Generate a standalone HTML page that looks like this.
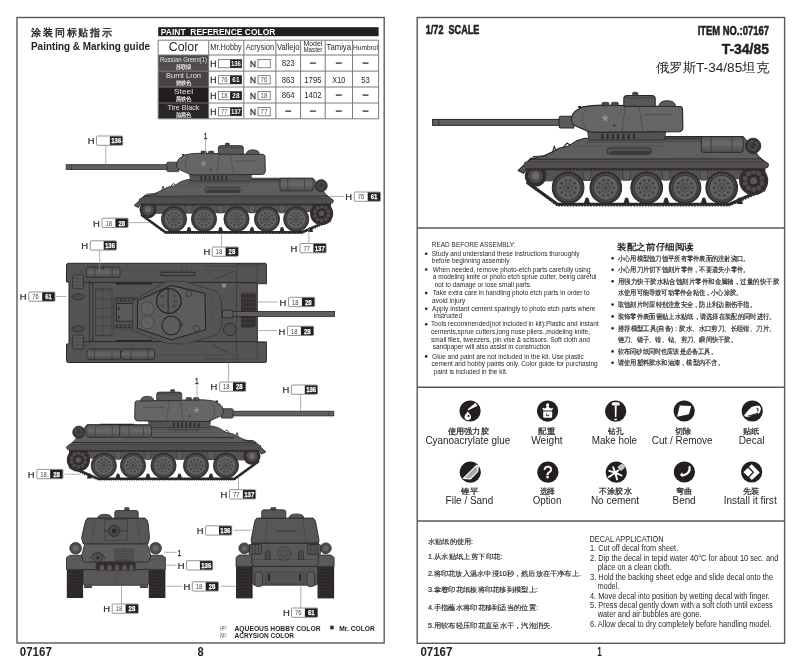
<!DOCTYPE html>
<html><head><meta charset="utf-8"><style>
html,body{margin:0;padding:0;background:#fff;width:800px;height:663px;overflow:hidden}
svg{display:block;will-change:transform;font-family:"Liberation Sans",sans-serif}
</style></head><body>
<svg width="800" height="663" viewBox="0 0 800 663" fill="#231f20">
<rect x="17.00" y="17.50" width="367.20" height="625.50" fill="none" stroke="#5a5757" stroke-width="1.4"/>
<rect x="417.20" y="17.50" width="367.40" height="625.80" fill="none" stroke="#5a5757" stroke-width="1.4"/>
<line x1="417.20" y1="228.00" x2="784.60" y2="228.00" stroke="#5a5757" stroke-width="1.4"/>
<line x1="417.20" y1="387.30" x2="784.60" y2="387.30" stroke="#5a5757" stroke-width="1.4"/>
<line x1="417.20" y1="521.00" x2="784.60" y2="521.00" stroke="#5a5757" stroke-width="1.4"/>
<text x="31.00" y="36.30" font-size="10.2" textLength="81.00" lengthAdjust="spacing" stroke="#231f20" stroke-width="0.4">涂装同标贴指示</text>
<text x="31.00" y="49.90" font-size="11.3" font-weight="bold" textLength="119.00" lengthAdjust="spacingAndGlyphs">Painting &amp; Marking guide</text>
<rect x="158.20" y="27.20" width="220.40" height="9.00" fill="#231f20"/>
<text x="160.80" y="34.90" font-size="9.3" font-weight="bold" fill="#fff" textLength="114.60" lengthAdjust="spacingAndGlyphs">PAINT&#160; REFERENCE COLOR</text>
<rect x="158.20" y="55.00" width="50.50" height="16.10" fill="#4e4c4c"/>
<rect x="158.20" y="71.10" width="50.50" height="15.90" fill="#484444"/>
<rect x="158.20" y="87.00" width="50.50" height="16.00" fill="#221e1e"/>
<rect x="158.20" y="103.00" width="50.50" height="15.80" fill="#2b2727"/>
<line x1="158.20" y1="71.10" x2="208.70" y2="71.10" stroke="#777" stroke-width="0.9"/>
<line x1="158.20" y1="87.00" x2="208.70" y2="87.00" stroke="#777" stroke-width="0.9"/>
<line x1="158.20" y1="103.00" x2="208.70" y2="103.00" stroke="#777" stroke-width="0.9"/>
<line x1="158.20" y1="40.20" x2="378.60" y2="40.20" stroke="#7c7a7a" stroke-width="1.0"/>
<line x1="158.20" y1="55.00" x2="378.60" y2="55.00" stroke="#7c7a7a" stroke-width="1.0"/>
<line x1="208.70" y1="71.10" x2="378.60" y2="71.10" stroke="#7c7a7a" stroke-width="1.0"/>
<line x1="208.70" y1="87.00" x2="378.60" y2="87.00" stroke="#7c7a7a" stroke-width="1.0"/>
<line x1="208.70" y1="103.00" x2="378.60" y2="103.00" stroke="#7c7a7a" stroke-width="1.0"/>
<line x1="158.20" y1="118.80" x2="378.60" y2="118.80" stroke="#7c7a7a" stroke-width="1.0"/>
<line x1="158.20" y1="40.20" x2="158.20" y2="118.80" stroke="#7c7a7a" stroke-width="1.0"/>
<line x1="208.70" y1="40.20" x2="208.70" y2="118.80" stroke="#7c7a7a" stroke-width="1.0"/>
<line x1="243.80" y1="40.20" x2="243.80" y2="118.80" stroke="#7c7a7a" stroke-width="1.0"/>
<line x1="275.90" y1="40.20" x2="275.90" y2="118.80" stroke="#7c7a7a" stroke-width="1.0"/>
<line x1="300.60" y1="40.20" x2="300.60" y2="118.80" stroke="#7c7a7a" stroke-width="1.0"/>
<line x1="325.20" y1="40.20" x2="325.20" y2="118.80" stroke="#7c7a7a" stroke-width="1.0"/>
<line x1="352.50" y1="40.20" x2="352.50" y2="118.80" stroke="#7c7a7a" stroke-width="1.0"/>
<line x1="378.60" y1="40.20" x2="378.60" y2="118.80" stroke="#7c7a7a" stroke-width="1.0"/>
<text x="183.50" y="51.40" font-size="12" text-anchor="middle" textLength="29.50" lengthAdjust="spacingAndGlyphs">Color</text>
<text x="226.00" y="49.80" font-size="8.2" text-anchor="middle" textLength="31.50" lengthAdjust="spacingAndGlyphs">Mr.Hobby</text>
<text x="259.90" y="49.80" font-size="8.2" text-anchor="middle" textLength="28.50" lengthAdjust="spacingAndGlyphs">Acrysion</text>
<text x="288.20" y="49.80" font-size="8.2" text-anchor="middle" textLength="22.50" lengthAdjust="spacingAndGlyphs">Vallejo</text>
<text x="312.90" y="46.20" font-size="6.6" text-anchor="middle" textLength="19.00" lengthAdjust="spacingAndGlyphs">Model</text>
<text x="312.90" y="52.40" font-size="6.6" text-anchor="middle" textLength="19.00" lengthAdjust="spacingAndGlyphs">Master</text>
<text x="338.80" y="49.80" font-size="8.4" text-anchor="middle" textLength="24.50" lengthAdjust="spacingAndGlyphs">Tamiya</text>
<text x="365.50" y="50.20" font-size="6.4" text-anchor="middle" textLength="25.00" lengthAdjust="spacingAndGlyphs">Humbrol</text>
<text x="183.50" y="62.20" font-size="7.1" fill="#e6e2e2" text-anchor="middle" textLength="47.00" lengthAdjust="spacingAndGlyphs">Russian Green(1)</text>
<text x="183.50" y="69.20" font-size="6" fill="#e6e2e2" text-anchor="middle" textLength="16.00" lengthAdjust="spacingAndGlyphs" font-weight="bold">苏联绿</text>
<text x="183.50" y="78.30" font-size="8" fill="#e6e2e2" text-anchor="middle" textLength="35.00" lengthAdjust="spacingAndGlyphs">Burnt Lron</text>
<text x="183.50" y="85.30" font-size="6" fill="#e6e2e2" text-anchor="middle" textLength="16.00" lengthAdjust="spacingAndGlyphs" font-weight="bold">烧铁色</text>
<text x="183.50" y="94.20" font-size="8" fill="#e6e2e2" text-anchor="middle" textLength="19.00" lengthAdjust="spacingAndGlyphs">Steel</text>
<text x="183.50" y="101.20" font-size="6" fill="#e6e2e2" text-anchor="middle" textLength="16.00" lengthAdjust="spacingAndGlyphs" font-weight="bold">黑铁色</text>
<text x="183.50" y="110.20" font-size="8" fill="#e6e2e2" text-anchor="middle" textLength="32.00" lengthAdjust="spacingAndGlyphs">Tire Black</text>
<text x="183.50" y="117.20" font-size="6" fill="#e6e2e2" text-anchor="middle" textLength="16.00" lengthAdjust="spacingAndGlyphs" font-weight="bold">胎黑色</text>
<text x="210.30" y="67.20" font-size="9.8" fill="#2b2727" textLength="6.20" lengthAdjust="spacingAndGlyphs" stroke="#2b2727" stroke-width="0.3">H</text>
<rect x="218.50" y="59.60" width="23.20" height="8.20" fill="#fff" stroke="#555" stroke-width="0.7"/>
<rect x="230.10" y="59.60" width="11.60" height="8.20" fill="#231f20"/>
<text x="235.90" y="66.20" font-size="7.2" font-weight="bold" fill="#fff" text-anchor="middle" textLength="10.00" lengthAdjust="spacingAndGlyphs">136</text>
<text x="250.00" y="67.20" font-size="9.8" fill="#2b2727" textLength="6.00" lengthAdjust="spacingAndGlyphs" stroke="#2b2727" stroke-width="0.3">N</text>
<rect x="258.00" y="59.60" width="12.20" height="8.20" fill="#fff" stroke="#555" stroke-width="0.7"/>
<text x="210.30" y="83.30" font-size="9.8" fill="#2b2727" textLength="6.20" lengthAdjust="spacingAndGlyphs" stroke="#2b2727" stroke-width="0.3">H</text>
<rect x="218.50" y="75.70" width="23.20" height="8.20" fill="#fff" stroke="#555" stroke-width="0.7"/>
<rect x="230.10" y="75.70" width="11.60" height="8.20" fill="#231f20"/>
<text x="235.90" y="82.30" font-size="7.2" font-weight="bold" fill="#fff" text-anchor="middle" textLength="7.20" lengthAdjust="spacingAndGlyphs">61</text>
<text x="224.30" y="82.30" font-size="7.2" fill="#555" text-anchor="middle" textLength="6.80" lengthAdjust="spacingAndGlyphs">76</text>
<text x="250.00" y="83.30" font-size="9.8" fill="#2b2727" textLength="6.00" lengthAdjust="spacingAndGlyphs" stroke="#2b2727" stroke-width="0.3">N</text>
<rect x="258.00" y="75.70" width="12.20" height="8.20" fill="#fff" stroke="#555" stroke-width="0.7"/>
<text x="264.10" y="82.30" font-size="7.2" fill="#555" text-anchor="middle" textLength="7.00" lengthAdjust="spacingAndGlyphs">76</text>
<text x="210.30" y="99.20" font-size="9.8" fill="#2b2727" textLength="6.20" lengthAdjust="spacingAndGlyphs" stroke="#2b2727" stroke-width="0.3">H</text>
<rect x="218.50" y="91.60" width="23.20" height="8.20" fill="#fff" stroke="#555" stroke-width="0.7"/>
<rect x="230.10" y="91.60" width="11.60" height="8.20" fill="#231f20"/>
<text x="235.90" y="98.20" font-size="7.2" font-weight="bold" fill="#fff" text-anchor="middle" textLength="7.20" lengthAdjust="spacingAndGlyphs">28</text>
<text x="224.30" y="98.20" font-size="7.2" fill="#555" text-anchor="middle" textLength="6.80" lengthAdjust="spacingAndGlyphs">18</text>
<text x="250.00" y="99.20" font-size="9.8" fill="#2b2727" textLength="6.00" lengthAdjust="spacingAndGlyphs" stroke="#2b2727" stroke-width="0.3">N</text>
<rect x="258.00" y="91.60" width="12.20" height="8.20" fill="#fff" stroke="#555" stroke-width="0.7"/>
<text x="264.10" y="98.20" font-size="7.2" fill="#555" text-anchor="middle" textLength="7.00" lengthAdjust="spacingAndGlyphs">18</text>
<text x="210.30" y="115.20" font-size="9.8" fill="#2b2727" textLength="6.20" lengthAdjust="spacingAndGlyphs" stroke="#2b2727" stroke-width="0.3">H</text>
<rect x="218.50" y="107.60" width="23.20" height="8.20" fill="#fff" stroke="#555" stroke-width="0.7"/>
<rect x="230.10" y="107.60" width="11.60" height="8.20" fill="#231f20"/>
<text x="235.90" y="114.20" font-size="7.2" font-weight="bold" fill="#fff" text-anchor="middle" textLength="10.00" lengthAdjust="spacingAndGlyphs">137</text>
<text x="224.30" y="114.20" font-size="7.2" fill="#555" text-anchor="middle" textLength="6.80" lengthAdjust="spacingAndGlyphs">77</text>
<text x="250.00" y="115.20" font-size="9.8" fill="#2b2727" textLength="6.00" lengthAdjust="spacingAndGlyphs" stroke="#2b2727" stroke-width="0.3">N</text>
<rect x="258.00" y="107.60" width="12.20" height="8.20" fill="#fff" stroke="#555" stroke-width="0.7"/>
<text x="264.10" y="114.20" font-size="7.2" fill="#555" text-anchor="middle" textLength="7.00" lengthAdjust="spacingAndGlyphs">77</text>
<text x="288.20" y="66.40" font-size="8.2" text-anchor="middle" textLength="12.90" lengthAdjust="spacingAndGlyphs">823</text>
<line x1="309.90" y1="63.10" x2="315.90" y2="63.10" stroke="#231f20" stroke-width="1.2"/>
<line x1="335.80" y1="63.10" x2="341.80" y2="63.10" stroke="#231f20" stroke-width="1.2"/>
<line x1="362.50" y1="63.10" x2="368.50" y2="63.10" stroke="#231f20" stroke-width="1.2"/>
<text x="288.20" y="82.50" font-size="8.2" text-anchor="middle" textLength="12.90" lengthAdjust="spacingAndGlyphs">863</text>
<text x="312.90" y="82.50" font-size="8.2" text-anchor="middle" textLength="17.20" lengthAdjust="spacingAndGlyphs">1795</text>
<text x="338.80" y="82.50" font-size="8.2" text-anchor="middle" textLength="12.90" lengthAdjust="spacingAndGlyphs">X10</text>
<text x="365.50" y="82.50" font-size="8.2" text-anchor="middle" textLength="8.60" lengthAdjust="spacingAndGlyphs">53</text>
<text x="288.20" y="98.40" font-size="8.2" text-anchor="middle" textLength="12.90" lengthAdjust="spacingAndGlyphs">864</text>
<text x="312.90" y="98.40" font-size="8.2" text-anchor="middle" textLength="17.20" lengthAdjust="spacingAndGlyphs">1402</text>
<line x1="335.80" y1="95.10" x2="341.80" y2="95.10" stroke="#231f20" stroke-width="1.2"/>
<line x1="362.50" y1="95.10" x2="368.50" y2="95.10" stroke="#231f20" stroke-width="1.2"/>
<line x1="285.20" y1="111.10" x2="291.20" y2="111.10" stroke="#231f20" stroke-width="1.2"/>
<line x1="309.90" y1="111.10" x2="315.90" y2="111.10" stroke="#231f20" stroke-width="1.2"/>
<line x1="335.80" y1="111.10" x2="341.80" y2="111.10" stroke="#231f20" stroke-width="1.2"/>
<line x1="362.50" y1="111.10" x2="368.50" y2="111.10" stroke="#231f20" stroke-width="1.2"/>
<defs><g id="side"><path d="M141,214.5 L165.5,232.2 L302,232.2 L331,219.5" fill="none" stroke="#2e2929" stroke-width="2.4" stroke-linejoin="round"/><path d="M142,216 L165.5,233.4 L302,233.4 L331.5,221" fill="none" stroke="#2e2929" stroke-width="1.2" stroke-dasharray="1.3 1.0"/><path d="M186.4,232 L187.7,227.6 Q189,226.2 190.3,227.6 L191.6,232Z" fill="#2e2929"/><path d="M217.9,232 L219.2,227.6 Q220.5,226.2 221.8,227.6 L223.1,232Z" fill="#2e2929"/><path d="M249.4,232 L250.7,227.6 Q252,226.2 253.3,227.6 L254.6,232Z" fill="#2e2929"/><path d="M279.4,232 L280.7,227.6 Q282,226.2 283.3,227.6 L284.6,232Z" fill="#2e2929"/><path d="M307.9,232 L309.2,227.6 Q310.5,226.2 311.8,227.6 L313.1,232Z" fill="#2e2929"/><path d="M139,203 L331,203 L331,212 L150,214 Z" fill="#545252"/><path d="M185.6,205 H192.4 L191.4,213 H186.6Z" fill="#5c5a5a" stroke="#3a3535" stroke-width="0.5"/><path d="M217.1,205 H223.9 L222.9,213 H218.1Z" fill="#5c5a5a" stroke="#3a3535" stroke-width="0.5"/><path d="M248.6,205 H255.4 L254.4,213 H249.6Z" fill="#5c5a5a" stroke="#3a3535" stroke-width="0.5"/><path d="M278.6,205 H285.4 L284.4,213 H279.6Z" fill="#5c5a5a" stroke="#3a3535" stroke-width="0.5"/><circle cx="148.1" cy="209.6" r="8.6" fill="#342f2f"/><circle cx="148.1" cy="209.6" r="6.2" fill="#4d4949" stroke="#2a2525" stroke-width="0.9" stroke-dasharray="1.4 1"/><circle cx="148.1" cy="209.6" r="3" fill="#6b6a6a"/><circle cx="321.6" cy="213.5" r="11.6" fill="#312c2c"/><circle cx="328.29" cy="215.57" r="2.0" fill="#4f4b4b"/><circle cx="325.79" cy="219.10" r="2.0" fill="#4f4b4b"/><circle cx="321.70" cy="220.50" r="2.0" fill="#4f4b4b"/><circle cx="317.57" cy="219.22" r="2.0" fill="#4f4b4b"/><circle cx="314.97" cy="215.76" r="2.0" fill="#4f4b4b"/><circle cx="314.91" cy="211.43" r="2.0" fill="#4f4b4b"/><circle cx="317.41" cy="207.90" r="2.0" fill="#4f4b4b"/><circle cx="321.50" cy="206.50" r="2.0" fill="#4f4b4b"/><circle cx="325.63" cy="207.78" r="2.0" fill="#4f4b4b"/><circle cx="328.23" cy="211.24" r="2.0" fill="#4f4b4b"/><circle cx="321.6" cy="213.5" r="2.8" fill="#5a5757"/><circle cx="321.6" cy="213.5" r="10.8" fill="none" stroke="#4a4545" stroke-width="0.7" stroke-dasharray="1 1.3"/><circle cx="174" cy="219.1" r="12.6" fill="#3a3535" stroke="#2e2929" stroke-width="0.8"/><circle cx="174" cy="219.1" r="10.9" fill="#585656"/><circle cx="174" cy="219.1" r="9.9" fill="#626161" stroke="#3a3535" stroke-width="0.9"/><circle cx="180.20" cy="219.10" r="1.05" fill="#423e3e"/><circle cx="179.02" cy="222.74" r="1.05" fill="#423e3e"/><circle cx="175.92" cy="225.00" r="1.05" fill="#423e3e"/><circle cx="172.08" cy="225.00" r="1.05" fill="#423e3e"/><circle cx="168.98" cy="222.74" r="1.05" fill="#423e3e"/><circle cx="167.80" cy="219.10" r="1.05" fill="#423e3e"/><circle cx="168.98" cy="215.46" r="1.05" fill="#423e3e"/><circle cx="172.08" cy="213.20" r="1.05" fill="#423e3e"/><circle cx="175.92" cy="213.20" r="1.05" fill="#423e3e"/><circle cx="179.02" cy="215.46" r="1.05" fill="#423e3e"/><circle cx="174" cy="219.1" r="3.6" fill="#5a5858" stroke="#474343" stroke-width="0.7"/><circle cx="174" cy="219.1" r="1.3" fill="#474343"/><circle cx="204" cy="219.1" r="12.6" fill="#3a3535" stroke="#2e2929" stroke-width="0.8"/><circle cx="204" cy="219.1" r="10.9" fill="#585656"/><circle cx="204" cy="219.1" r="9.9" fill="#626161" stroke="#3a3535" stroke-width="0.9"/><circle cx="210.20" cy="219.10" r="1.05" fill="#423e3e"/><circle cx="209.02" cy="222.74" r="1.05" fill="#423e3e"/><circle cx="205.92" cy="225.00" r="1.05" fill="#423e3e"/><circle cx="202.08" cy="225.00" r="1.05" fill="#423e3e"/><circle cx="198.98" cy="222.74" r="1.05" fill="#423e3e"/><circle cx="197.80" cy="219.10" r="1.05" fill="#423e3e"/><circle cx="198.98" cy="215.46" r="1.05" fill="#423e3e"/><circle cx="202.08" cy="213.20" r="1.05" fill="#423e3e"/><circle cx="205.92" cy="213.20" r="1.05" fill="#423e3e"/><circle cx="209.02" cy="215.46" r="1.05" fill="#423e3e"/><circle cx="204" cy="219.1" r="3.6" fill="#5a5858" stroke="#474343" stroke-width="0.7"/><circle cx="204" cy="219.1" r="1.3" fill="#474343"/><circle cx="236.5" cy="219.1" r="12.6" fill="#3a3535" stroke="#2e2929" stroke-width="0.8"/><circle cx="236.5" cy="219.1" r="10.9" fill="#585656"/><circle cx="236.5" cy="219.1" r="9.9" fill="#626161" stroke="#3a3535" stroke-width="0.9"/><circle cx="242.70" cy="219.10" r="1.05" fill="#423e3e"/><circle cx="241.52" cy="222.74" r="1.05" fill="#423e3e"/><circle cx="238.42" cy="225.00" r="1.05" fill="#423e3e"/><circle cx="234.58" cy="225.00" r="1.05" fill="#423e3e"/><circle cx="231.48" cy="222.74" r="1.05" fill="#423e3e"/><circle cx="230.30" cy="219.10" r="1.05" fill="#423e3e"/><circle cx="231.48" cy="215.46" r="1.05" fill="#423e3e"/><circle cx="234.58" cy="213.20" r="1.05" fill="#423e3e"/><circle cx="238.42" cy="213.20" r="1.05" fill="#423e3e"/><circle cx="241.52" cy="215.46" r="1.05" fill="#423e3e"/><circle cx="236.5" cy="219.1" r="3.6" fill="#5a5858" stroke="#474343" stroke-width="0.7"/><circle cx="236.5" cy="219.1" r="1.3" fill="#474343"/><circle cx="267" cy="219.1" r="12.6" fill="#3a3535" stroke="#2e2929" stroke-width="0.8"/><circle cx="267" cy="219.1" r="10.9" fill="#585656"/><circle cx="267" cy="219.1" r="9.9" fill="#626161" stroke="#3a3535" stroke-width="0.9"/><circle cx="273.20" cy="219.10" r="1.05" fill="#423e3e"/><circle cx="272.02" cy="222.74" r="1.05" fill="#423e3e"/><circle cx="268.92" cy="225.00" r="1.05" fill="#423e3e"/><circle cx="265.08" cy="225.00" r="1.05" fill="#423e3e"/><circle cx="261.98" cy="222.74" r="1.05" fill="#423e3e"/><circle cx="260.80" cy="219.10" r="1.05" fill="#423e3e"/><circle cx="261.98" cy="215.46" r="1.05" fill="#423e3e"/><circle cx="265.08" cy="213.20" r="1.05" fill="#423e3e"/><circle cx="268.92" cy="213.20" r="1.05" fill="#423e3e"/><circle cx="272.02" cy="215.46" r="1.05" fill="#423e3e"/><circle cx="267" cy="219.1" r="3.6" fill="#5a5858" stroke="#474343" stroke-width="0.7"/><circle cx="267" cy="219.1" r="1.3" fill="#474343"/><circle cx="296.2" cy="219.1" r="12.6" fill="#3a3535" stroke="#2e2929" stroke-width="0.8"/><circle cx="296.2" cy="219.1" r="10.9" fill="#585656"/><circle cx="296.2" cy="219.1" r="9.9" fill="#626161" stroke="#3a3535" stroke-width="0.9"/><circle cx="302.40" cy="219.10" r="1.05" fill="#423e3e"/><circle cx="301.22" cy="222.74" r="1.05" fill="#423e3e"/><circle cx="298.12" cy="225.00" r="1.05" fill="#423e3e"/><circle cx="294.28" cy="225.00" r="1.05" fill="#423e3e"/><circle cx="291.18" cy="222.74" r="1.05" fill="#423e3e"/><circle cx="290.00" cy="219.10" r="1.05" fill="#423e3e"/><circle cx="291.18" cy="215.46" r="1.05" fill="#423e3e"/><circle cx="294.28" cy="213.20" r="1.05" fill="#423e3e"/><circle cx="298.12" cy="213.20" r="1.05" fill="#423e3e"/><circle cx="301.22" cy="215.46" r="1.05" fill="#423e3e"/><circle cx="296.2" cy="219.1" r="3.6" fill="#5a5858" stroke="#474343" stroke-width="0.7"/><circle cx="296.2" cy="219.1" r="1.3" fill="#474343"/><path d="M141,204.6 L331,204.6" stroke="#2e2929" stroke-width="1.6" stroke-dasharray="2 0.8"/><path d="M134.2,205.4 L144.6,195.4 L326.5,195.2 L333.4,200.3 L332.8,202.6 L330,203.8 L141,203.8 L138.5,207.6 Z" fill="#5a5959" stroke="#2a2525" stroke-width="0.9" stroke-linejoin="round"/><rect x="139" y="198.4" width="192" height="5.2" fill="#504e4e"/><line x1="141" y1="198.1" x2="330" y2="198.1" stroke="#3e3a3a" stroke-width="0.7"/><path d="M144,196.3 L153.8,194 L162.5,190 L166.7,187.6 L174.3,185.8 L180.6,181.7 L187.4,179.6 L250.7,179.6 L251.5,178.2 L313,178.2 L314.6,180 L325.4,193.8 L327.5,196 Z" fill="#5f5e5e" stroke="#2a2525" stroke-width="0.8" stroke-linejoin="round"/><path d="M146,194.2 L157,193.6 M161.5,191 L163,186.2 L164.4,189.5 M170,187.2 L173.2,183.5 L175.5,185" stroke="#2a2525" stroke-width="0.9" fill="none"/><line x1="251.5" y1="179.9" x2="281" y2="179.9" stroke="#3a3535" stroke-width="1.5"/><line x1="188" y1="183" x2="250" y2="183" stroke="#444040" stroke-width="0.6"/><line x1="252" y1="182" x2="280" y2="182" stroke="#3d3939" stroke-width="0.6"/><line x1="178" y1="185.8" x2="250" y2="185.8" stroke="#4e4a4a" stroke-width="0.5"/><linearGradient id="drumg" x1="0" y1="0" x2="0" y2="1"><stop offset="0" stop-color="#585757"/><stop offset="0.45" stop-color="#6a6969"/><stop offset="1" stop-color="#4e4c4c"/></linearGradient><rect x="280" y="178.3" width="33.3" height="12.6" rx="1.8" fill="url(#drumg)" stroke="#2a2525" stroke-width="0.7"/><path d="M287.8,178.5 V190.7 M304.4,178.5 V190.7" stroke="#403c3c" stroke-width="0.8"/><circle cx="321.2" cy="185.7" r="6.1" fill="#3b3636" stroke="#2a2525" stroke-width="0.7"/><rect x="318.3" y="182.6" width="5.6" height="6" fill="none" stroke="#5e5a5a" stroke-width="0.8" transform="rotate(30 321.2 185.7)"/><path d="M189.5,174.2 L251.5,174.2 L251,181.2 L190.5,181.2Z" fill="#545151" stroke="#2a2525" stroke-width="0.6"/><rect x="200.5" y="176.2" width="1.4" height="4.2" fill="#2a2525"/><rect x="204.7" y="176.2" width="1.4" height="4.2" fill="#2a2525"/><rect x="208.9" y="176.2" width="1.4" height="4.2" fill="#2a2525"/><rect x="213.1" y="176.2" width="1.4" height="4.2" fill="#2a2525"/><rect x="217.3" y="176.2" width="1.4" height="4.2" fill="#2a2525"/><rect x="221.5" y="176.2" width="1.4" height="4.2" fill="#2a2525"/><rect x="225.7" y="176.2" width="1.4" height="4.2" fill="#2a2525"/><rect x="66.2" y="164.7" width="102" height="4.7" fill="#616060" stroke="#2a2525" stroke-width="0.8"/><line x1="71.2" y1="164.8" x2="71.2" y2="169.3" stroke="#2a2525" stroke-width="0.6"/><path d="M168.2,162.2 H178.5 V171.6 H168.2 Q166.8,171.6 166.8,170 V163.8 Q166.8,162.2 168.2,162.2Z" fill="#5c5b5b" stroke="#2a2525" stroke-width="0.8"/><path d="M176.6,165.2 C176.8,161.5 178.3,159 180.5,157.6 L185.6,154.7 C191.5,153.6 196,153.3 201,153.3 L263.6,154.4 Q265,154.7 265,157 L265.3,171.5 Q265,174.2 262.5,174.4 L195.4,175 C191,174.8 188.5,174 186.8,172.8 L178.7,169.3 C177.3,168.2 176.6,166.8 176.6,165.2Z" fill="#676666" stroke="#2a2525" stroke-width="0.9"/><path d="M189,156 C184,160 184,168 189.5,173.5" fill="none" stroke="#4a4747" stroke-width="0.6"/><path d="M219.5,153.8 L216.8,174.8 M230.5,153.8 L233.5,174.6 M234.5,161 H257" fill="none" stroke="#484444" stroke-width="0.6"/><path d="M203.5,160.1 L204.4,162.6 L206.9,162.6 L204.9,164.1 L205.7,166.6 L203.5,165.1 L201.3,166.6 L202.1,164.1 L200.1,162.6 L202.6,162.6Z" fill="#8f8d8d"/><circle cx="210.7" cy="169.6" r="1" fill="#3d3939"/><path d="M218.3,154.2 V148 Q218.3,145.6 221,145.6 H240.6 Q243.3,145.6 243.3,148 V154.2Z" fill="#5a5959" stroke="#2a2525" stroke-width="0.8"/><rect x="225.3" y="143.1" width="4.2" height="2.8" rx="1" fill="#4a4747" stroke="#2a2525" stroke-width="0.5"/><line x1="218.8" y1="147.6" x2="242.8" y2="147.6" stroke="#3d3939" stroke-width="0.6"/><path d="M246.2,154.4 Q246.4,149.8 252.8,149.8 Q259.4,149.8 259.4,154.4Z" fill="#5b5a5a" stroke="#2a2525" stroke-width="0.7"/><rect x="201" y="151.1" width="5.4" height="2.8" rx="0.8" fill="#4c4949" stroke="#2a2525" stroke-width="0.5"/><rect x="208.5" y="151.1" width="5.4" height="2.8" rx="0.8" fill="#4c4949" stroke="#2a2525" stroke-width="0.5"/><rect x="182" y="154" width="2.4" height="1.6" fill="#2a2525"/></g></defs>
<g><use href="#side"/><rect x="205" y="187.4" width="35" height="5" rx="1.8" fill="#565353" stroke="#2a2525" stroke-width="0.6"/><rect x="207" y="189.8" width="33" height="2.6" rx="1.2" fill="#3e3a3a"/></g>
<g transform="translate(400,246.5) scale(-1,1)"><use href="#side"/><rect x="248.5" y="178.6" width="31.8" height="12.4" rx="1.8" fill="url(#drumg)" stroke="#2a2525" stroke-width="0.7"/><path d="M256.5,178.8 V190.8 M271,178.8 V190.8" stroke="#403c3c" stroke-width="0.8"/><line x1="266" y1="177.9" x2="300" y2="177.9" stroke="#2a2525" stroke-width="1.2"/><line x1="166" y1="191" x2="248" y2="191" stroke="#3a3535" stroke-width="1.3"/><path d="M200,183.2 H232 M203,183.2 V185.5 M214,183.2 V185.5 M225,183.2 V185.5" stroke="#3d3939" stroke-width="0.6" fill="none"/></g>
<g transform="translate(349.4,-87.6) scale(1.257)"><use href="#side"/><rect x="205" y="187.4" width="35" height="5" rx="1.8" fill="#565353" stroke="#2a2525" stroke-width="0.6"/><rect x="207" y="189.8" width="33" height="2.6" rx="1.2" fill="#3e3a3a"/></g>
<path d="M66.5,265 Q66.5,263.3 68.5,263.3 L265,263.3 Q266.5,263.3 266.5,265 L266.5,283.7 L257.3,283.7 L257.3,342 L266.5,342 L266.5,360.5 Q266.5,362.5 264.5,362.5 L68.5,362.5 Q66.5,362.5 66.5,360.5 L66.5,344 L69,344 L69,282 L66.5,282 Z" fill="#555454" stroke="#2a2525" stroke-width="1"/>
<line x1="84.00" y1="282.40" x2="257.30" y2="282.40" stroke="#2a2525" stroke-width="0.9"/>
<line x1="84.00" y1="341.60" x2="257.30" y2="341.60" stroke="#2a2525" stroke-width="0.9"/>
<path d="M80,271 L94,286 M80,353 L94,338" stroke="#3a3636" stroke-width="0.7" fill="none"/>
<linearGradient id="tdrum" x1="0" y1="0" x2="0" y2="1"><stop offset="0" stop-color="#4e4c4c"/><stop offset="0.5" stop-color="#676666"/><stop offset="1" stop-color="#4a4848"/></linearGradient>
<rect x="86.50" y="267.00" width="33.50" height="10.50" fill="url(#tdrum)" stroke="#2a2525" stroke-width="0.7" rx="2"/>
<line x1="95.00" y1="267.00" x2="95.00" y2="277.50" stroke="#3d3939" stroke-width="0.8"/>
<line x1="112.00" y1="267.00" x2="112.00" y2="277.50" stroke="#3d3939" stroke-width="0.8"/>
<rect x="87.00" y="348.90" width="33.60" height="10.70" fill="url(#tdrum)" stroke="#2a2525" stroke-width="0.7" rx="2"/>
<line x1="94.50" y1="348.90" x2="94.50" y2="359.60" stroke="#3d3939" stroke-width="0.8"/>
<line x1="112.00" y1="348.90" x2="112.00" y2="359.60" stroke="#3d3939" stroke-width="0.8"/>
<rect x="121.00" y="348.90" width="33.50" height="10.70" fill="url(#tdrum)" stroke="#2a2525" stroke-width="0.7" rx="2"/>
<line x1="130.80" y1="348.90" x2="130.80" y2="359.60" stroke="#3d3939" stroke-width="0.8"/>
<line x1="148.00" y1="348.90" x2="148.00" y2="359.60" stroke="#3d3939" stroke-width="0.8"/>
<circle cx="103" cy="268.3" r="0.9" fill="#2a2525"/>
<line x1="116.00" y1="283.60" x2="152.00" y2="283.60" stroke="#2a2525" stroke-width="1.6"/>
<line x1="115.80" y1="340.80" x2="152.00" y2="340.80" stroke="#2a2525" stroke-width="1.6"/>
<rect x="72.40" y="275.00" width="11.20" height="13.80" fill="#5a5959" stroke="#2a2525" stroke-width="0.7" rx="2"/>
<line x1="72.40" y1="278.45" x2="83.60" y2="278.45" stroke="#3d3939" stroke-width="0.5"/>
<line x1="72.40" y1="281.90" x2="83.60" y2="281.90" stroke="#3d3939" stroke-width="0.5"/>
<line x1="72.40" y1="285.35" x2="83.60" y2="285.35" stroke="#3d3939" stroke-width="0.5"/>
<rect x="72.40" y="335.00" width="11.20" height="13.80" fill="#5a5959" stroke="#2a2525" stroke-width="0.7" rx="2"/>
<line x1="72.40" y1="338.45" x2="83.60" y2="338.45" stroke="#3d3939" stroke-width="0.5"/>
<line x1="72.40" y1="341.90" x2="83.60" y2="341.90" stroke="#3d3939" stroke-width="0.5"/>
<line x1="72.40" y1="345.35" x2="83.60" y2="345.35" stroke="#3d3939" stroke-width="0.5"/>
<ellipse cx="78" cy="296.8" rx="6.2" ry="3" fill="#4d4a4a" stroke="#2a2525" stroke-width="0.7"/>
<ellipse cx="78" cy="328.8" rx="6.2" ry="3" fill="#4d4a4a" stroke="#2a2525" stroke-width="0.7"/>
<rect x="95.30" y="288.80" width="16.70" height="47.10" fill="none" stroke="#3d3939" stroke-width="0.7"/>
<line x1="95.80" y1="289.80" x2="111.50" y2="289.80" stroke="#2f2a2a" stroke-width="0.8" stroke-dasharray="1.6 1.6"/>
<line x1="95.80" y1="299.10" x2="111.50" y2="299.10" stroke="#2f2a2a" stroke-width="0.8" stroke-dasharray="1.6 1.6"/>
<line x1="95.80" y1="308.40" x2="111.50" y2="308.40" stroke="#2f2a2a" stroke-width="0.8" stroke-dasharray="1.6 1.6"/>
<line x1="95.80" y1="317.30" x2="111.50" y2="317.30" stroke="#2f2a2a" stroke-width="0.8" stroke-dasharray="1.6 1.6"/>
<line x1="95.80" y1="326.10" x2="111.50" y2="326.10" stroke="#2f2a2a" stroke-width="0.8" stroke-dasharray="1.6 1.6"/>
<line x1="95.80" y1="335.40" x2="111.50" y2="335.40" stroke="#2f2a2a" stroke-width="0.8" stroke-dasharray="1.6 1.6"/>
<line x1="103.10" y1="288.80" x2="103.10" y2="335.90" stroke="#3d3939" stroke-width="0.6"/>
<line x1="89.40" y1="283.00" x2="89.40" y2="341.00" stroke="#332e2e" stroke-width="0.9"/>
<line x1="92.80" y1="283.00" x2="92.80" y2="341.00" stroke="#332e2e" stroke-width="0.9"/>
<rect x="113.90" y="297.20" width="23.10" height="31.80" fill="#555353" stroke="#3d3939" stroke-width="0.7"/>
<rect x="115.50" y="298.00" width="20.00" height="3.60" fill="#3a3535"/>
<rect x="115.50" y="324.60" width="20.00" height="3.40" fill="#3a3535"/>
<rect x="118.00" y="298.80" width="2.20" height="2.00" fill="#5a5656"/>
<rect x="118.00" y="325.40" width="2.20" height="1.80" fill="#5a5656"/>
<rect x="122.00" y="298.80" width="2.20" height="2.00" fill="#5a5656"/>
<rect x="122.00" y="325.40" width="2.20" height="1.80" fill="#5a5656"/>
<rect x="126.00" y="298.80" width="2.20" height="2.00" fill="#5a5656"/>
<rect x="126.00" y="325.40" width="2.20" height="1.80" fill="#5a5656"/>
<rect x="130.00" y="298.80" width="2.20" height="2.00" fill="#5a5656"/>
<rect x="130.00" y="325.40" width="2.20" height="1.80" fill="#5a5656"/>
<rect x="116.40" y="303.50" width="18.60" height="17.70" fill="#5c5a5a" stroke="#2a2525" stroke-width="0.9"/>
<rect x="118.20" y="307.20" width="1.40" height="2.60" fill="#2a2525"/>
<rect x="118.20" y="316.10" width="1.40" height="2.60" fill="#2a2525"/>
<rect x="160.50" y="272.20" width="34.90" height="3.40" fill="#555353" stroke="#2a2525" stroke-width="0.9" rx="1.5"/>
<line x1="120.00" y1="270.60" x2="228.70" y2="270.60" stroke="#444040" stroke-width="0.6"/>
<line x1="155.00" y1="355.20" x2="228.70" y2="355.20" stroke="#444040" stroke-width="0.6"/>
<line x1="128.00" y1="263.80" x2="128.00" y2="270.60" stroke="#444040" stroke-width="0.5"/>
<line x1="181.60" y1="263.80" x2="181.60" y2="270.60" stroke="#444040" stroke-width="0.5"/>
<line x1="186.50" y1="263.80" x2="186.50" y2="270.60" stroke="#444040" stroke-width="0.5"/>
<path d="M205,266 L257,266 M205,359 L257,359" stroke="#3d3939" stroke-width="0.6"/>
<path d="M132.5,301 L167.5,281 L186,281.6 L217.5,292 L221.5,300 L221.5,327 L217.5,334.8 L186,344 L167.5,343.5 L132.5,331 Z" fill="#555454" stroke="#3a3636" stroke-width="0.8" stroke-linejoin="round"/>
<path d="M137.5,300.4 L171.3,285.4 L205,293.5 L205.6,329.8 L171.3,339.8 L137.5,328.5 Z" fill="#5d5c5c" stroke="#2a2525" stroke-width="1.1" stroke-linejoin="round"/>
<circle cx="213" cy="298" r="0.6" fill="#3a3636"/>
<circle cx="213" cy="303" r="0.6" fill="#3a3636"/>
<circle cx="213" cy="308" r="0.6" fill="#3a3636"/>
<circle cx="213" cy="313" r="0.6" fill="#3a3636"/>
<circle cx="213" cy="318" r="0.6" fill="#3a3636"/>
<circle cx="213" cy="323" r="0.6" fill="#3a3636"/>
<circle cx="213" cy="328" r="0.6" fill="#3a3636"/>
<circle cx="168.8" cy="301" r="12.3" fill="#5b5a5a" stroke="#2a2525" stroke-width="1.3"/>
<line x1="168.10" y1="289.00" x2="168.10" y2="313.00" stroke="#2a2525" stroke-width="1"/>
<ellipse cx="162.5" cy="296" rx="1.8" ry="1.1" fill="none" stroke="#3a3636" stroke-width="0.7"/>
<ellipse cx="162.5" cy="306" rx="1.8" ry="1.1" fill="none" stroke="#3a3636" stroke-width="0.7"/>
<ellipse cx="174.5" cy="296" rx="1.8" ry="1.1" fill="none" stroke="#3a3636" stroke-width="0.7"/>
<ellipse cx="174.5" cy="306" rx="1.8" ry="1.1" fill="none" stroke="#3a3636" stroke-width="0.7"/>
<ellipse cx="175" cy="301" rx="1.8" ry="1.1" fill="none" stroke="#3a3636" stroke-width="0.7"/>
<circle cx="171.3" cy="325.4" r="9.4" fill="none" stroke="#2a2525" stroke-width="1.1"/>
<circle cx="181" cy="324.8" r="1.8" fill="#4a4747" stroke="#2a2525" stroke-width="0.6"/>
<circle cx="147.5" cy="308.5" r="6.6" fill="#636262" stroke="#444040" stroke-width="0.8"/>
<circle cx="147.5" cy="308.5" r="0.8" fill="#4a4646"/>
<circle cx="147.5" cy="322.3" r="6.6" fill="#636262" stroke="#444040" stroke-width="0.8"/>
<circle cx="147.5" cy="322.3" r="0.8" fill="#4a4646"/>
<circle cx="188.8" cy="293.5" r="3" fill="none" stroke="#3a3636" stroke-width="0.9"/>
<circle cx="196.3" cy="328.5" r="3" fill="none" stroke="#3a3636" stroke-width="0.9"/>
<rect x="241.00" y="292.80" width="14.70" height="34.80" fill="#352f2f" rx="2"/>
<line x1="242.00" y1="294.00" x2="254.50" y2="294.00" stroke="#4d4848" stroke-width="0.8"/>
<line x1="242.00" y1="298.20" x2="254.50" y2="298.20" stroke="#4d4848" stroke-width="0.8"/>
<line x1="242.00" y1="302.40" x2="254.50" y2="302.40" stroke="#4d4848" stroke-width="0.8"/>
<line x1="242.00" y1="306.60" x2="254.50" y2="306.60" stroke="#4d4848" stroke-width="0.8"/>
<line x1="242.00" y1="310.80" x2="254.50" y2="310.80" stroke="#4d4848" stroke-width="0.8"/>
<line x1="242.00" y1="315.00" x2="254.50" y2="315.00" stroke="#4d4848" stroke-width="0.8"/>
<line x1="242.00" y1="319.20" x2="254.50" y2="319.20" stroke="#4d4848" stroke-width="0.8"/>
<line x1="242.00" y1="323.40" x2="254.50" y2="323.40" stroke="#4d4848" stroke-width="0.8"/>
<circle cx="229.8" cy="329.4" r="6.3" fill="#514e4e" stroke="#2a2525" stroke-width="0.8"/>
<rect x="222.50" y="311.50" width="112.10" height="4.90" fill="#5f5f5f" stroke="#2a2525" stroke-width="0.8"/>
<path d="M222.3,310.2 L233,310.2 L233,317.8 L222.3,317.8Z" fill="#5c5b5b" stroke="#2a2525" stroke-width="0.8"/>
<path d="M211.6,281.2 L234.8,270.4 M211.6,344.8 L234.8,355.6 M236.5,270 V356" stroke="#3d3939" stroke-width="0.8" fill="none"/>
<rect x="236.50" y="264.30" width="30.00" height="19.40" fill="none" stroke="#454141" stroke-width="0.6"/>
<rect x="236.50" y="342.00" width="30.00" height="20.20" fill="none" stroke="#454141" stroke-width="0.6"/>
<line x1="257.30" y1="265.00" x2="257.30" y2="283.70" stroke="#3d3939" stroke-width="0.6"/>
<line x1="257.30" y1="342.00" x2="257.30" y2="360.00" stroke="#3d3939" stroke-width="0.6"/>
<path d="M224,282.2 L224.8,284.4 L227.2,284.4 L225.3,285.8 L226,288 L224,286.7 L222,288 L222.7,285.8 L220.8,284.4 L223.2,284.4Z" fill="#9a9898"/>
<rect x="66.80" y="569.40" width="16.30" height="28.60" fill="#2d2828"/>
<line x1="68.3" y1="571.0" x2="81.6" y2="571.0" stroke="#4a4444" stroke-width="0.7" stroke-dasharray="1.2 1.6"/>
<line x1="68.3" y1="574.2" x2="81.6" y2="574.2" stroke="#4a4444" stroke-width="0.7" stroke-dasharray="1.2 1.6"/>
<line x1="68.3" y1="577.4" x2="81.6" y2="577.4" stroke="#4a4444" stroke-width="0.7" stroke-dasharray="1.2 1.6"/>
<line x1="68.3" y1="580.6" x2="81.6" y2="580.6" stroke="#4a4444" stroke-width="0.7" stroke-dasharray="1.2 1.6"/>
<line x1="68.3" y1="583.8" x2="81.6" y2="583.8" stroke="#4a4444" stroke-width="0.7" stroke-dasharray="1.2 1.6"/>
<line x1="68.3" y1="587.0" x2="81.6" y2="587.0" stroke="#4a4444" stroke-width="0.7" stroke-dasharray="1.2 1.6"/>
<line x1="68.3" y1="590.2" x2="81.6" y2="590.2" stroke="#4a4444" stroke-width="0.7" stroke-dasharray="1.2 1.6"/>
<line x1="68.3" y1="593.4" x2="81.6" y2="593.4" stroke="#4a4444" stroke-width="0.7" stroke-dasharray="1.2 1.6"/>
<rect x="148.80" y="569.40" width="16.60" height="28.60" fill="#2d2828"/>
<line x1="150.3" y1="571.0" x2="163.9" y2="571.0" stroke="#4a4444" stroke-width="0.7" stroke-dasharray="1.2 1.6"/>
<line x1="150.3" y1="574.2" x2="163.9" y2="574.2" stroke="#4a4444" stroke-width="0.7" stroke-dasharray="1.2 1.6"/>
<line x1="150.3" y1="577.4" x2="163.9" y2="577.4" stroke="#4a4444" stroke-width="0.7" stroke-dasharray="1.2 1.6"/>
<line x1="150.3" y1="580.6" x2="163.9" y2="580.6" stroke="#4a4444" stroke-width="0.7" stroke-dasharray="1.2 1.6"/>
<line x1="150.3" y1="583.8" x2="163.9" y2="583.8" stroke="#4a4444" stroke-width="0.7" stroke-dasharray="1.2 1.6"/>
<line x1="150.3" y1="587.0" x2="163.9" y2="587.0" stroke="#4a4444" stroke-width="0.7" stroke-dasharray="1.2 1.6"/>
<line x1="150.3" y1="590.2" x2="163.9" y2="590.2" stroke="#4a4444" stroke-width="0.7" stroke-dasharray="1.2 1.6"/>
<line x1="150.3" y1="593.4" x2="163.9" y2="593.4" stroke="#4a4444" stroke-width="0.7" stroke-dasharray="1.2 1.6"/>
<path d="M83.1,569.4 H148.8 V583 Q148.8,585.3 146,585.3 H86 Q83.1,585.3 83.1,583Z" fill="#585757" stroke="#2a2525" stroke-width="0.8"/>
<line x1="116.00" y1="572.00" x2="116.00" y2="585.00" stroke="#4a4646" stroke-width="0.5"/>
<rect x="84.00" y="585.30" width="8.00" height="2.70" fill="#4a4646"/>
<rect x="140.00" y="585.30" width="8.00" height="2.70" fill="#4a4646"/>
<path d="M66.5,557.5 L70,555.3 L162,555.3 L165.4,557.5 V569.4 H66.5Z" fill="#5c5b5b" stroke="#2a2525" stroke-width="0.8"/>
<line x1="66.50" y1="560.00" x2="165.40" y2="560.00" stroke="#4a4646" stroke-width="0.5"/>
<path d="M84.6,544.2 L147.3,544.2 L151,556 L148.6,562 L83.4,562 L81.6,556 Z" fill="#5e5d5d" stroke="#2a2525" stroke-width="0.8" stroke-linejoin="round"/>
<path d="M95.7,570.6 V564 Q95.7,561.8 98,561.8 H133.3 Q135.6,561.8 135.6,564 V570.6Z" fill="#342e2e"/>
<path d="M100,570 V566 Q102,563.6 104,566 V570Z" fill="#5a5656"/>
<path d="M107.5,570 V566 Q109.5,563.6 111.5,566 V570Z" fill="#5a5656"/>
<path d="M115,570 V566 Q117,563.6 119,566 V570Z" fill="#5a5656"/>
<path d="M122.5,570 V566 Q124.5,563.6 126.5,566 V570Z" fill="#5a5656"/>
<path d="M129.5,570 V566 Q131.5,563.6 133.5,566 V570Z" fill="#5a5656"/>
<rect x="114.90" y="549.00" width="18.60" height="11.70" fill="#575555" stroke="#3d3939" stroke-width="0.6"/>
<line x1="116.00" y1="551.50" x2="132.50" y2="551.50" stroke="#3d3939" stroke-width="0.6"/>
<line x1="116.00" y1="554.00" x2="132.50" y2="554.00" stroke="#3d3939" stroke-width="0.6"/>
<line x1="116.00" y1="556.50" x2="132.50" y2="556.50" stroke="#3d3939" stroke-width="0.6"/>
<line x1="116.00" y1="559.00" x2="132.50" y2="559.00" stroke="#3d3939" stroke-width="0.6"/>
<line x1="124.20" y1="549.00" x2="124.20" y2="551.50" stroke="#3d3939" stroke-width="0.8"/>
<path d="M90.6,559 A7.3,7.3 0 0 1 105,559" fill="none" stroke="#3a3636" stroke-width="1.2"/>
<circle cx="97.8" cy="557.5" r="4.6" fill="#524f4f" stroke="#3a3636" stroke-width="1"/>
<circle cx="97.8" cy="557.5" r="1.6" fill="#2e2929"/>
<circle cx="75.6" cy="548.3" r="5.8" fill="#4e4b4b" stroke="#2a2525" stroke-width="0.8"/>
<circle cx="75.6" cy="548.3" r="3" fill="#6a6868"/>
<circle cx="155.6" cy="548.3" r="5.8" fill="#4e4b4b" stroke="#2a2525" stroke-width="0.8"/>
<circle cx="155.6" cy="548.3" r="3" fill="#6a6868"/>
<path d="M87.6,518.1 L145,518.1 Q147.5,519.5 148.2,524 L149.5,537.7 L148,543.7 L83.1,543.7 L81.6,537.7 L84.8,524 Q85.6,519.4 87.6,518.1Z" fill="#585757" stroke="#2a2525" stroke-width="0.9"/>
<path d="M95,519 L92,543 M137,519 L140,543" stroke="#454141" stroke-width="0.6" fill="none"/>
<rect x="104.30" y="519.60" width="23.30" height="21.10" fill="#575555" stroke="#403c3c" stroke-width="0.6"/>
<line x1="104.30" y1="530.90" x2="108.00" y2="530.90" stroke="#2a2525" stroke-width="0.6"/>
<line x1="120.00" y1="530.90" x2="127.60" y2="530.90" stroke="#2a2525" stroke-width="0.6"/>
<circle cx="114" cy="530.9" r="5.4" fill="#4c4949" stroke="#2a2525" stroke-width="0.9"/>
<circle cx="114" cy="530.9" r="2.3" fill="#2e2929"/>
<path d="M114.8,518.2 V512.5 Q114.8,510.5 117,510.5 H136 Q138.2,510.5 138.2,512.5 V518.2Z" fill="#575656" stroke="#2a2525" stroke-width="0.8"/>
<rect x="124.60" y="507.50" width="4.50" height="3.10" fill="#4d4a4a" stroke="#2a2525" stroke-width="0.5" rx="0.8"/>
<path d="M97.5,518.2 Q98,514.3 104.6,514.3 Q111.5,514.3 111.8,518.2Z" fill="#555" stroke="#2a2525" stroke-width="0.7"/>
<rect x="236.00" y="566.40" width="16.60" height="32.00" fill="#2d2828"/>
<line x1="237.5" y1="568.0" x2="251.1" y2="568.0" stroke="#4a4444" stroke-width="0.7" stroke-dasharray="1.2 1.6"/>
<line x1="237.5" y1="571.2" x2="251.1" y2="571.2" stroke="#4a4444" stroke-width="0.7" stroke-dasharray="1.2 1.6"/>
<line x1="237.5" y1="574.4" x2="251.1" y2="574.4" stroke="#4a4444" stroke-width="0.7" stroke-dasharray="1.2 1.6"/>
<line x1="237.5" y1="577.6" x2="251.1" y2="577.6" stroke="#4a4444" stroke-width="0.7" stroke-dasharray="1.2 1.6"/>
<line x1="237.5" y1="580.8" x2="251.1" y2="580.8" stroke="#4a4444" stroke-width="0.7" stroke-dasharray="1.2 1.6"/>
<line x1="237.5" y1="584.0" x2="251.1" y2="584.0" stroke="#4a4444" stroke-width="0.7" stroke-dasharray="1.2 1.6"/>
<line x1="237.5" y1="587.2" x2="251.1" y2="587.2" stroke="#4a4444" stroke-width="0.7" stroke-dasharray="1.2 1.6"/>
<line x1="237.5" y1="590.4" x2="251.1" y2="590.4" stroke="#4a4444" stroke-width="0.7" stroke-dasharray="1.2 1.6"/>
<line x1="237.5" y1="593.6" x2="251.1" y2="593.6" stroke="#4a4444" stroke-width="0.7" stroke-dasharray="1.2 1.6"/>
<line x1="237.5" y1="596.8" x2="251.1" y2="596.8" stroke="#4a4444" stroke-width="0.7" stroke-dasharray="1.2 1.6"/>
<rect x="317.50" y="566.40" width="16.60" height="32.00" fill="#2d2828"/>
<line x1="319.0" y1="568.0" x2="332.6" y2="568.0" stroke="#4a4444" stroke-width="0.7" stroke-dasharray="1.2 1.6"/>
<line x1="319.0" y1="571.2" x2="332.6" y2="571.2" stroke="#4a4444" stroke-width="0.7" stroke-dasharray="1.2 1.6"/>
<line x1="319.0" y1="574.4" x2="332.6" y2="574.4" stroke="#4a4444" stroke-width="0.7" stroke-dasharray="1.2 1.6"/>
<line x1="319.0" y1="577.6" x2="332.6" y2="577.6" stroke="#4a4444" stroke-width="0.7" stroke-dasharray="1.2 1.6"/>
<line x1="319.0" y1="580.8" x2="332.6" y2="580.8" stroke="#4a4444" stroke-width="0.7" stroke-dasharray="1.2 1.6"/>
<line x1="319.0" y1="584.0" x2="332.6" y2="584.0" stroke="#4a4444" stroke-width="0.7" stroke-dasharray="1.2 1.6"/>
<line x1="319.0" y1="587.2" x2="332.6" y2="587.2" stroke="#4a4444" stroke-width="0.7" stroke-dasharray="1.2 1.6"/>
<line x1="319.0" y1="590.4" x2="332.6" y2="590.4" stroke="#4a4444" stroke-width="0.7" stroke-dasharray="1.2 1.6"/>
<line x1="319.0" y1="593.6" x2="332.6" y2="593.6" stroke="#4a4444" stroke-width="0.7" stroke-dasharray="1.2 1.6"/>
<line x1="319.0" y1="596.8" x2="332.6" y2="596.8" stroke="#4a4444" stroke-width="0.7" stroke-dasharray="1.2 1.6"/>
<path d="M252.6,566.4 H317.5 V583 Q317.5,585.2 315,585.2 H255 Q252.6,585.2 252.6,583Z" fill="#585757" stroke="#2a2525" stroke-width="0.8"/>
<rect x="254.90" y="571.70" width="7.50" height="15.00" fill="#5e5d5d" stroke="#2a2525" stroke-width="0.7" rx="3"/>
<rect x="307.00" y="571.70" width="7.50" height="15.00" fill="#5e5d5d" stroke="#2a2525" stroke-width="0.7" rx="3"/>
<rect x="266.00" y="572.00" width="38.00" height="12.00" fill="#555353" stroke="#3d3939" stroke-width="0.6"/>
<rect x="268.00" y="574.00" width="2.20" height="7.00" fill="#2e2929"/>
<rect x="299.00" y="574.00" width="2.20" height="7.00" fill="#2e2929"/>
<path d="M236,557.5 L239,555 L331,555 L334.1,557.5 V566.4 H236Z" fill="#5c5b5b" stroke="#2a2525" stroke-width="0.8"/>
<path d="M251.9,543 H318.3 V563 Q318.3,566.4 315,566.4 H255.2 Q251.9,566.4 251.9,563Z" fill="#5a5959" stroke="#2a2525" stroke-width="0.8"/>
<line x1="253.00" y1="559.50" x2="317.00" y2="559.50" stroke="#454141" stroke-width="0.6"/>
<circle cx="284.3" cy="553.5" r="6.8" fill="#555353" stroke="#3a3636" stroke-width="1" stroke-dasharray="1.4 1"/>
<circle cx="284.3" cy="553.5" r="3.5" fill="none" stroke="#444040" stroke-width="0.6"/>
<path d="M265.3,559.5 V552 Q267.7,548.6 270.09999999999997,552 V559.5Z" fill="#4d4a4a" stroke="#2a2525" stroke-width="0.6"/>
<path d="M298.5,559.5 V552 Q300.9,548.6 303.29999999999995,552 V559.5Z" fill="#4d4a4a" stroke="#2a2525" stroke-width="0.6"/>
<rect x="248.90" y="544.50" width="12.80" height="9.80" fill="#565454" stroke="#2a2525" stroke-width="0.7" rx="1"/>
<line x1="252.10" y1="544.50" x2="252.10" y2="554.30" stroke="#3a3636" stroke-width="0.7"/>
<line x1="255.30" y1="544.50" x2="255.30" y2="554.30" stroke="#3a3636" stroke-width="0.7"/>
<line x1="258.50" y1="544.50" x2="258.50" y2="554.30" stroke="#3a3636" stroke-width="0.7"/>
<rect x="307.70" y="544.50" width="12.80" height="9.80" fill="#565454" stroke="#2a2525" stroke-width="0.7" rx="1"/>
<line x1="310.90" y1="544.50" x2="310.90" y2="554.30" stroke="#3a3636" stroke-width="0.7"/>
<line x1="314.10" y1="544.50" x2="314.10" y2="554.30" stroke="#3a3636" stroke-width="0.7"/>
<line x1="317.30" y1="544.50" x2="317.30" y2="554.30" stroke="#3a3636" stroke-width="0.7"/>
<circle cx="244.3" cy="548.3" r="5.4" fill="#4e4b4b" stroke="#2a2525" stroke-width="0.8"/>
<circle cx="244.3" cy="548.3" r="2.6" fill="#666"/>
<circle cx="325.8" cy="548.3" r="5.4" fill="#4e4b4b" stroke="#2a2525" stroke-width="0.8"/>
<circle cx="325.8" cy="548.3" r="2.6" fill="#666"/>
<path d="M257.2,518.1 L313,518.1 Q315,519 315.6,522 L319,540 L318.5,543 L251.6,543 L251.1,540 L254.6,522 Q255.2,519 257.2,518.1Z" fill="#585757" stroke="#2a2525" stroke-width="0.9"/>
<line x1="276.00" y1="531.00" x2="297.00" y2="531.00" stroke="#3a3636" stroke-width="0.9"/>
<path d="M268,519 L265,543 M303,519 L306,543" stroke="#454141" stroke-width="0.6" fill="none"/>
<path d="M261.7,518.2 V512 Q261.7,509.8 264,509.8 H283.5 Q285.8,509.8 285.8,512 V518.2Z" fill="#575656" stroke="#2a2525" stroke-width="0.8"/>
<rect x="270.70" y="507.50" width="5.30" height="2.40" fill="#4d4a4a" stroke="#2a2525" stroke-width="0.5" rx="0.8"/>
<path d="M288.8,518.2 Q289.2,513.9 296.4,513.9 Q303.8,513.9 304,518.2Z" fill="#555" stroke="#2a2525" stroke-width="0.7"/>
<text x="87.70" y="144.35" font-size="9.8" fill="#2b2727" textLength="6.80" lengthAdjust="spacingAndGlyphs" stroke="#2b2727" stroke-width="0.2">H</text>
<rect x="96.50" y="136.00" width="26.10" height="9.30" fill="#fff" stroke="#8a8686" stroke-width="0.9" rx="0.8"/>
<rect x="109.90" y="136.40" width="12.40" height="8.50" fill="#231f20"/>
<text x="116.25" y="143.35" font-size="7.2" font-weight="bold" fill="#fff" text-anchor="middle" textLength="10.05" lengthAdjust="spacingAndGlyphs" stroke="#fff" stroke-width="0.25">136</text>
<line x1="105.80" y1="145.20" x2="105.80" y2="164.70" stroke="#8f8f8f" stroke-width="0.7"/>
<text x="205.60" y="138.60" font-size="8.4" fill="#2b2727" text-anchor="middle" textLength="3.60" lengthAdjust="spacingAndGlyphs" stroke="#2b2727" stroke-width="0.3">1</text>
<line x1="205.50" y1="140.20" x2="205.50" y2="154.00" stroke="#8f8f8f" stroke-width="0.7"/>
<text x="345.20" y="200.35" font-size="9.8" fill="#2b2727" textLength="6.80" lengthAdjust="spacingAndGlyphs" stroke="#2b2727" stroke-width="0.2">H</text>
<rect x="354.30" y="192.00" width="26.10" height="9.30" fill="#fff" stroke="#8a8686" stroke-width="0.9" rx="0.8"/>
<rect x="367.70" y="192.40" width="12.40" height="8.50" fill="#231f20"/>
<text x="374.05" y="199.35" font-size="7.2" font-weight="bold" fill="#fff" text-anchor="middle" textLength="6.70" lengthAdjust="spacingAndGlyphs" stroke="#fff" stroke-width="0.25">61</text>
<text x="361.00" y="199.35" font-size="7.2" fill="#4a4545" text-anchor="middle" textLength="6.60" lengthAdjust="spacingAndGlyphs">76</text>
<line x1="328.80" y1="196.50" x2="344.30" y2="196.50" stroke="#8f8f8f" stroke-width="0.7"/>
<text x="93.10" y="226.55" font-size="9.8" fill="#2b2727" textLength="6.80" lengthAdjust="spacingAndGlyphs" stroke="#2b2727" stroke-width="0.2">H</text>
<rect x="102.00" y="218.20" width="26.10" height="9.30" fill="#fff" stroke="#8a8686" stroke-width="0.9" rx="0.8"/>
<rect x="115.40" y="218.60" width="12.40" height="8.50" fill="#231f20"/>
<text x="121.75" y="225.55" font-size="7.2" font-weight="bold" fill="#fff" text-anchor="middle" textLength="6.70" lengthAdjust="spacingAndGlyphs" stroke="#fff" stroke-width="0.25">28</text>
<text x="108.70" y="225.55" font-size="7.2" fill="#4a4545" text-anchor="middle" textLength="6.60" lengthAdjust="spacingAndGlyphs">18</text>
<line x1="129.00" y1="222.60" x2="149.50" y2="222.60" stroke="#8f8f8f" stroke-width="0.7"/>
<text x="203.50" y="255.35" font-size="9.8" fill="#2b2727" textLength="6.80" lengthAdjust="spacingAndGlyphs" stroke="#2b2727" stroke-width="0.2">H</text>
<rect x="212.20" y="247.00" width="26.10" height="9.30" fill="#fff" stroke="#8a8686" stroke-width="0.9" rx="0.8"/>
<rect x="225.60" y="247.40" width="12.40" height="8.50" fill="#231f20"/>
<text x="231.95" y="254.35" font-size="7.2" font-weight="bold" fill="#fff" text-anchor="middle" textLength="6.70" lengthAdjust="spacingAndGlyphs" stroke="#fff" stroke-width="0.25">28</text>
<text x="218.90" y="254.35" font-size="7.2" fill="#4a4545" text-anchor="middle" textLength="6.60" lengthAdjust="spacingAndGlyphs">18</text>
<line x1="221.50" y1="233.50" x2="221.50" y2="247.00" stroke="#8f8f8f" stroke-width="0.7"/>
<text x="290.50" y="251.85" font-size="9.8" fill="#2b2727" textLength="6.80" lengthAdjust="spacingAndGlyphs" stroke="#2b2727" stroke-width="0.2">H</text>
<rect x="300.00" y="243.50" width="26.10" height="9.30" fill="#fff" stroke="#8a8686" stroke-width="0.9" rx="0.8"/>
<rect x="313.40" y="243.90" width="12.40" height="8.50" fill="#231f20"/>
<text x="319.75" y="250.85" font-size="7.2" font-weight="bold" fill="#fff" text-anchor="middle" textLength="10.05" lengthAdjust="spacingAndGlyphs" stroke="#fff" stroke-width="0.25">137</text>
<text x="306.70" y="250.85" font-size="7.2" fill="#4a4545" text-anchor="middle" textLength="6.60" lengthAdjust="spacingAndGlyphs">77</text>
<line x1="308.90" y1="227.50" x2="308.90" y2="243.50" stroke="#8f8f8f" stroke-width="0.7"/>
<text x="81.20" y="249.15" font-size="9.8" fill="#2b2727" textLength="6.80" lengthAdjust="spacingAndGlyphs" stroke="#2b2727" stroke-width="0.2">H</text>
<rect x="90.30" y="240.80" width="26.10" height="9.30" fill="#fff" stroke="#8a8686" stroke-width="0.9" rx="0.8"/>
<rect x="103.70" y="241.20" width="12.40" height="8.50" fill="#231f20"/>
<text x="110.05" y="248.15" font-size="7.2" font-weight="bold" fill="#fff" text-anchor="middle" textLength="10.05" lengthAdjust="spacingAndGlyphs" stroke="#fff" stroke-width="0.25">136</text>
<line x1="99.70" y1="250.00" x2="99.70" y2="271.00" stroke="#8f8f8f" stroke-width="0.7"/>
<text x="19.70" y="300.35" font-size="9.8" fill="#2b2727" textLength="6.80" lengthAdjust="spacingAndGlyphs" stroke="#2b2727" stroke-width="0.2">H</text>
<rect x="28.80" y="292.00" width="26.10" height="9.30" fill="#fff" stroke="#8a8686" stroke-width="0.9" rx="0.8"/>
<rect x="42.20" y="292.40" width="12.40" height="8.50" fill="#231f20"/>
<text x="48.55" y="299.35" font-size="7.2" font-weight="bold" fill="#fff" text-anchor="middle" textLength="6.70" lengthAdjust="spacingAndGlyphs" stroke="#fff" stroke-width="0.25">61</text>
<text x="35.50" y="299.35" font-size="7.2" fill="#4a4545" text-anchor="middle" textLength="6.60" lengthAdjust="spacingAndGlyphs">76</text>
<line x1="56.30" y1="296.50" x2="66.30" y2="296.50" stroke="#8f8f8f" stroke-width="0.7"/>
<text x="279.50" y="305.65" font-size="9.8" fill="#2b2727" textLength="6.80" lengthAdjust="spacingAndGlyphs" stroke="#2b2727" stroke-width="0.2">H</text>
<rect x="288.50" y="297.30" width="26.10" height="9.30" fill="#fff" stroke="#8a8686" stroke-width="0.9" rx="0.8"/>
<rect x="301.90" y="297.70" width="12.40" height="8.50" fill="#231f20"/>
<text x="308.25" y="304.65" font-size="7.2" font-weight="bold" fill="#fff" text-anchor="middle" textLength="6.70" lengthAdjust="spacingAndGlyphs" stroke="#fff" stroke-width="0.25">28</text>
<text x="295.20" y="304.65" font-size="7.2" fill="#4a4545" text-anchor="middle" textLength="6.60" lengthAdjust="spacingAndGlyphs">18</text>
<line x1="257.50" y1="302.00" x2="277.80" y2="302.00" stroke="#8f8f8f" stroke-width="0.7"/>
<text x="278.50" y="334.55" font-size="9.8" fill="#2b2727" textLength="6.80" lengthAdjust="spacingAndGlyphs" stroke="#2b2727" stroke-width="0.2">H</text>
<rect x="287.50" y="326.20" width="26.10" height="9.30" fill="#fff" stroke="#8a8686" stroke-width="0.9" rx="0.8"/>
<rect x="300.90" y="326.60" width="12.40" height="8.50" fill="#231f20"/>
<text x="307.25" y="333.55" font-size="7.2" font-weight="bold" fill="#fff" text-anchor="middle" textLength="6.70" lengthAdjust="spacingAndGlyphs" stroke="#fff" stroke-width="0.25">28</text>
<text x="294.20" y="333.55" font-size="7.2" fill="#4a4545" text-anchor="middle" textLength="6.60" lengthAdjust="spacingAndGlyphs">18</text>
<line x1="257.50" y1="330.60" x2="277.00" y2="330.60" stroke="#8f8f8f" stroke-width="0.7"/>
<text x="210.50" y="390.35" font-size="9.8" fill="#2b2727" textLength="6.80" lengthAdjust="spacingAndGlyphs" stroke="#2b2727" stroke-width="0.2">H</text>
<rect x="219.60" y="382.00" width="26.10" height="9.30" fill="#fff" stroke="#8a8686" stroke-width="0.9" rx="0.8"/>
<rect x="233.00" y="382.40" width="12.40" height="8.50" fill="#231f20"/>
<text x="239.35" y="389.35" font-size="7.2" font-weight="bold" fill="#fff" text-anchor="middle" textLength="6.70" lengthAdjust="spacingAndGlyphs" stroke="#fff" stroke-width="0.25">28</text>
<text x="226.30" y="389.35" font-size="7.2" fill="#4a4545" text-anchor="middle" textLength="6.60" lengthAdjust="spacingAndGlyphs">18</text>
<line x1="228.60" y1="362.60" x2="228.60" y2="382.00" stroke="#8f8f8f" stroke-width="0.7"/>
<text x="196.80" y="383.60" font-size="8.4" fill="#2b2727" text-anchor="middle" textLength="3.60" lengthAdjust="spacingAndGlyphs" stroke="#2b2727" stroke-width="0.3">1</text>
<line x1="197.00" y1="385.50" x2="197.00" y2="400.00" stroke="#8f8f8f" stroke-width="0.7"/>
<text x="282.50" y="393.35" font-size="9.8" fill="#2b2727" textLength="6.80" lengthAdjust="spacingAndGlyphs" stroke="#2b2727" stroke-width="0.2">H</text>
<rect x="291.40" y="385.00" width="26.10" height="9.30" fill="#fff" stroke="#8a8686" stroke-width="0.9" rx="0.8"/>
<rect x="304.80" y="385.40" width="12.40" height="8.50" fill="#231f20"/>
<text x="311.15" y="392.35" font-size="7.2" font-weight="bold" fill="#fff" text-anchor="middle" textLength="10.05" lengthAdjust="spacingAndGlyphs" stroke="#fff" stroke-width="0.25">136</text>
<line x1="300.60" y1="394.10" x2="300.60" y2="411.00" stroke="#8f8f8f" stroke-width="0.7"/>
<text x="27.70" y="477.75" font-size="9.8" fill="#2b2727" textLength="6.80" lengthAdjust="spacingAndGlyphs" stroke="#2b2727" stroke-width="0.2">H</text>
<rect x="36.80" y="469.40" width="26.10" height="9.30" fill="#fff" stroke="#8a8686" stroke-width="0.9" rx="0.8"/>
<rect x="50.20" y="469.80" width="12.40" height="8.50" fill="#231f20"/>
<text x="56.55" y="476.75" font-size="7.2" font-weight="bold" fill="#fff" text-anchor="middle" textLength="6.70" lengthAdjust="spacingAndGlyphs" stroke="#fff" stroke-width="0.25">28</text>
<text x="43.50" y="476.75" font-size="7.2" fill="#4a4545" text-anchor="middle" textLength="6.60" lengthAdjust="spacingAndGlyphs">18</text>
<line x1="64.50" y1="474.20" x2="80.00" y2="474.20" stroke="#8f8f8f" stroke-width="0.7"/>
<text x="220.50" y="498.05" font-size="9.8" fill="#2b2727" textLength="6.80" lengthAdjust="spacingAndGlyphs" stroke="#2b2727" stroke-width="0.2">H</text>
<rect x="229.50" y="489.70" width="26.10" height="9.30" fill="#fff" stroke="#8a8686" stroke-width="0.9" rx="0.8"/>
<rect x="242.90" y="490.10" width="12.40" height="8.50" fill="#231f20"/>
<text x="249.25" y="497.05" font-size="7.2" font-weight="bold" fill="#fff" text-anchor="middle" textLength="10.05" lengthAdjust="spacingAndGlyphs" stroke="#fff" stroke-width="0.25">137</text>
<text x="236.20" y="497.05" font-size="7.2" fill="#4a4545" text-anchor="middle" textLength="6.60" lengthAdjust="spacingAndGlyphs">77</text>
<line x1="238.50" y1="476.50" x2="238.50" y2="489.70" stroke="#8f8f8f" stroke-width="0.7"/>
<text x="179.40" y="555.60" font-size="8.4" fill="#2b2727" text-anchor="middle" textLength="3.60" lengthAdjust="spacingAndGlyphs" stroke="#2b2727" stroke-width="0.3">1</text>
<line x1="164.00" y1="552.30" x2="176.50" y2="552.30" stroke="#8f8f8f" stroke-width="0.7"/>
<text x="177.70" y="569.05" font-size="9.8" fill="#2b2727" textLength="6.80" lengthAdjust="spacingAndGlyphs" stroke="#2b2727" stroke-width="0.2">H</text>
<rect x="186.50" y="560.70" width="26.10" height="9.30" fill="#fff" stroke="#8a8686" stroke-width="0.9" rx="0.8"/>
<rect x="199.90" y="561.10" width="12.40" height="8.50" fill="#231f20"/>
<text x="206.25" y="568.05" font-size="7.2" font-weight="bold" fill="#fff" text-anchor="middle" textLength="10.05" lengthAdjust="spacingAndGlyphs" stroke="#fff" stroke-width="0.25">136</text>
<line x1="165.80" y1="565.20" x2="176.50" y2="565.20" stroke="#8f8f8f" stroke-width="0.7"/>
<text x="183.50" y="590.15" font-size="9.8" fill="#2b2727" textLength="6.80" lengthAdjust="spacingAndGlyphs" stroke="#2b2727" stroke-width="0.2">H</text>
<rect x="192.30" y="581.80" width="26.10" height="9.30" fill="#fff" stroke="#8a8686" stroke-width="0.9" rx="0.8"/>
<rect x="205.70" y="582.20" width="12.40" height="8.50" fill="#231f20"/>
<text x="212.05" y="589.15" font-size="7.2" font-weight="bold" fill="#fff" text-anchor="middle" textLength="6.70" lengthAdjust="spacingAndGlyphs" stroke="#fff" stroke-width="0.25">28</text>
<text x="199.00" y="589.15" font-size="7.2" fill="#4a4545" text-anchor="middle" textLength="6.60" lengthAdjust="spacingAndGlyphs">18</text>
<line x1="165.80" y1="586.30" x2="182.40" y2="586.30" stroke="#8f8f8f" stroke-width="0.7"/>
<line x1="220.50" y1="586.30" x2="236.30" y2="586.30" stroke="#8f8f8f" stroke-width="0.7"/>
<text x="196.80" y="534.15" font-size="9.8" fill="#2b2727" textLength="6.80" lengthAdjust="spacingAndGlyphs" stroke="#2b2727" stroke-width="0.2">H</text>
<rect x="205.60" y="525.80" width="26.10" height="9.30" fill="#fff" stroke="#8a8686" stroke-width="0.9" rx="0.8"/>
<rect x="219.00" y="526.20" width="12.40" height="8.50" fill="#231f20"/>
<text x="225.35" y="533.15" font-size="7.2" font-weight="bold" fill="#fff" text-anchor="middle" textLength="10.05" lengthAdjust="spacingAndGlyphs" stroke="#fff" stroke-width="0.25">136</text>
<line x1="233.80" y1="530.20" x2="252.00" y2="530.20" stroke="#8f8f8f" stroke-width="0.7"/>
<text x="103.30" y="612.35" font-size="9.8" fill="#2b2727" textLength="6.80" lengthAdjust="spacingAndGlyphs" stroke="#2b2727" stroke-width="0.2">H</text>
<rect x="112.20" y="604.00" width="26.10" height="9.30" fill="#fff" stroke="#8a8686" stroke-width="0.9" rx="0.8"/>
<rect x="125.60" y="604.40" width="12.40" height="8.50" fill="#231f20"/>
<text x="131.95" y="611.35" font-size="7.2" font-weight="bold" fill="#fff" text-anchor="middle" textLength="6.70" lengthAdjust="spacingAndGlyphs" stroke="#fff" stroke-width="0.25">28</text>
<text x="118.90" y="611.35" font-size="7.2" fill="#4a4545" text-anchor="middle" textLength="6.60" lengthAdjust="spacingAndGlyphs">18</text>
<line x1="121.50" y1="586.00" x2="121.50" y2="604.00" stroke="#8f8f8f" stroke-width="0.7"/>
<text x="283.00" y="616.35" font-size="9.8" fill="#2b2727" textLength="6.80" lengthAdjust="spacingAndGlyphs" stroke="#2b2727" stroke-width="0.2">H</text>
<rect x="291.50" y="608.00" width="26.10" height="9.30" fill="#fff" stroke="#8a8686" stroke-width="0.9" rx="0.8"/>
<rect x="304.90" y="608.40" width="12.40" height="8.50" fill="#231f20"/>
<text x="311.25" y="615.35" font-size="7.2" font-weight="bold" fill="#fff" text-anchor="middle" textLength="6.70" lengthAdjust="spacingAndGlyphs" stroke="#fff" stroke-width="0.25">61</text>
<text x="298.20" y="615.35" font-size="7.2" fill="#4a4545" text-anchor="middle" textLength="6.60" lengthAdjust="spacingAndGlyphs">76</text>
<line x1="300.80" y1="586.00" x2="300.80" y2="608.00" stroke="#8f8f8f" stroke-width="0.7"/>
<text x="220.30" y="630.60" font-size="6.6" fill="#444" textLength="2.90" lengthAdjust="spacingAndGlyphs">H</text>
<rect x="223.60" y="626.20" width="2.40" height="2.60" fill="none" stroke="#777" stroke-width="0.5"/>
<text x="234.50" y="630.60" font-size="7.1" font-weight="bold" textLength="86.00" lengthAdjust="spacingAndGlyphs">AQUEOUS HOBBY COLOR</text>
<rect x="330.40" y="625.90" width="3.20" height="3.20" fill="#333" stroke="#333" stroke-width="0.4"/>
<text x="339.30" y="630.60" font-size="7.1" font-weight="bold" textLength="35.50" lengthAdjust="spacingAndGlyphs">Mr. COLOR</text>
<text x="220.30" y="638.20" font-size="6.6" fill="#444" textLength="3.30" lengthAdjust="spacingAndGlyphs">N</text>
<rect x="223.60" y="633.90" width="2.40" height="2.60" fill="none" stroke="#777" stroke-width="0.5"/>
<text x="234.50" y="638.20" font-size="7.1" font-weight="bold" textLength="59.50" lengthAdjust="spacingAndGlyphs">ACRYSION COLOR</text>
<text x="19.80" y="655.80" font-size="12.2" font-weight="bold" textLength="32.00" lengthAdjust="spacingAndGlyphs">07167</text>
<text x="197.50" y="655.80" font-size="12.2" font-weight="bold" textLength="6.20" lengthAdjust="spacingAndGlyphs">8</text>
<text x="420.40" y="655.80" font-size="12.2" font-weight="bold" textLength="32.00" lengthAdjust="spacingAndGlyphs">07167</text>
<text x="597.20" y="655.80" font-size="12.2" font-weight="bold" textLength="4.60" lengthAdjust="spacingAndGlyphs">1</text>
<text x="425.80" y="34.40" font-size="13" font-weight="bold" textLength="53.50" lengthAdjust="spacingAndGlyphs" stroke="#231f20" stroke-width="0.6">1/72&#160;&#160;SCALE</text>
<text x="768.90" y="34.60" font-size="13.3" font-weight="bold" text-anchor="end" textLength="71.20" lengthAdjust="spacingAndGlyphs" stroke="#231f20" stroke-width="0.6">ITEM NO.:07167</text>
<text x="768.90" y="53.70" font-size="15.5" font-weight="bold" text-anchor="end" textLength="47.20" lengthAdjust="spacingAndGlyphs" stroke="#231f20" stroke-width="0.5">T-34/85</text>
<text x="769.20" y="72.30" font-size="13.2" text-anchor="end" textLength="113.50" lengthAdjust="spacingAndGlyphs">俄罗斯T-34/85坦克</text>
<text x="431.80" y="246.90" font-size="6.8" fill="#2b2727" textLength="83.70" lengthAdjust="spacingAndGlyphs">READ BEFORE ASSEMBLY:</text>
<text x="431.80" y="255.80" font-size="6.8" fill="#2b2727" textLength="147.80" lengthAdjust="spacingAndGlyphs">Study and understand these instructions thoroughly</text>
<circle cx="426.2" cy="253.7" r="1.3" fill="#231f20"/>
<text x="431.80" y="263.40" font-size="6.8" fill="#2b2727" textLength="77.60" lengthAdjust="spacingAndGlyphs">before beginning assembly</text>
<text x="432.80" y="271.60" font-size="6.8" fill="#2b2727" textLength="157.80" lengthAdjust="spacingAndGlyphs">When needed, remove photo-etch parts carefully using</text>
<circle cx="426.2" cy="269.5" r="1.3" fill="#231f20"/>
<text x="432.80" y="279.10" font-size="6.8" fill="#2b2727" textLength="163.70" lengthAdjust="spacingAndGlyphs">a modeling knife or photo etch sprue cutter, being careful</text>
<text x="434.70" y="286.60" font-size="6.8" fill="#2b2727" textLength="97.10" lengthAdjust="spacingAndGlyphs">not to damage or lose small parts.</text>
<text x="432.80" y="295.20" font-size="6.8" fill="#2b2727" textLength="156.70" lengthAdjust="spacingAndGlyphs">Take extra care in handling photo etch parts in order to</text>
<circle cx="426.2" cy="293.1" r="1.3" fill="#231f20"/>
<text x="432.10" y="303.40" font-size="6.8" fill="#2b2727" textLength="33.10" lengthAdjust="spacingAndGlyphs">avoid injury</text>
<text x="432.10" y="310.80" font-size="6.8" fill="#2b2727" textLength="163.40" lengthAdjust="spacingAndGlyphs">Apply instant cement sparingly to photo etch parts where</text>
<circle cx="426.2" cy="308.7" r="1.3" fill="#231f20"/>
<text x="433.90" y="318.30" font-size="6.8" fill="#2b2727" textLength="28.10" lengthAdjust="spacingAndGlyphs">instructed</text>
<text x="431.10" y="326.30" font-size="6.8" fill="#2b2727" textLength="167.50" lengthAdjust="spacingAndGlyphs">Tools recommended(not included in kit):Plastic and instant</text>
<circle cx="426.2" cy="324.2" r="1.3" fill="#231f20"/>
<text x="431.10" y="333.70" font-size="6.8" fill="#2b2727" textLength="158.90" lengthAdjust="spacingAndGlyphs">cements,sprue cutters,long nose pliers.,modeling knife,</text>
<text x="431.10" y="341.50" font-size="6.8" fill="#2b2727" textLength="158.90" lengthAdjust="spacingAndGlyphs">small files, tweezers, pin vise &amp; scissors. Soft cloth and</text>
<text x="432.70" y="349.20" font-size="6.8" fill="#2b2727" textLength="117.70" lengthAdjust="spacingAndGlyphs">sandpaper will also assist in construction</text>
<text x="432.10" y="358.50" font-size="6.8" fill="#2b2727" textLength="151.70" lengthAdjust="spacingAndGlyphs">Glue and paint are not included in the kit. Use plastic</text>
<circle cx="426.2" cy="356.4" r="1.3" fill="#231f20"/>
<text x="431.50" y="365.90" font-size="6.8" fill="#2b2727" textLength="166.20" lengthAdjust="spacingAndGlyphs">cement and hobby paints only. Color guide for purchasing</text>
<text x="433.60" y="373.90" font-size="6.8" fill="#2b2727" textLength="73.90" lengthAdjust="spacingAndGlyphs">paint is included in the kit.</text>
<text x="617.30" y="250.30" font-size="9.4" font-family="Liberation Serif, serif" fill="#2b2727" textLength="76.50" lengthAdjust="spacingAndGlyphs" font-weight="bold">装配之前仔细阅读</text>
<text x="617.90" y="260.70" font-size="6.5" fill="#2b2727" textLength="131.50" lengthAdjust="spacingAndGlyphs" stroke="#2b2727" stroke-width="0.18">小心用模型蚀刀蚀平所有零件表面的注射浇口。</text>
<circle cx="612.6" cy="258.2" r="1.3" fill="#231f20"/>
<text x="617.90" y="272.20" font-size="6.5" fill="#2b2727" textLength="131.50" lengthAdjust="spacingAndGlyphs" stroke="#2b2727" stroke-width="0.18">小心用刀片切下蚀刻片零件，不要遗失小零件。</text>
<circle cx="612.6" cy="269.7" r="1.3" fill="#231f20"/>
<text x="617.90" y="283.80" font-size="6.5" fill="#2b2727" textLength="161.10" lengthAdjust="spacingAndGlyphs" stroke="#2b2727" stroke-width="0.18">用强力快干胶水粘合蚀刻片零件和金属轴，过量的快干胶</text>
<circle cx="612.6" cy="281.3" r="1.3" fill="#231f20"/>
<text x="617.90" y="295.10" font-size="6.5" fill="#2b2727" textLength="124.40" lengthAdjust="spacingAndGlyphs" stroke="#2b2727" stroke-width="0.18">水使用可能导致可动零件会粘住，小心涂胶。</text>
<text x="617.90" y="307.00" font-size="6.5" fill="#2b2727" textLength="138.00" lengthAdjust="spacingAndGlyphs" stroke="#2b2727" stroke-width="0.18">取蚀刻片时应特别注意安全，防止利边割伤手指。</text>
<circle cx="612.6" cy="304.5" r="1.3" fill="#231f20"/>
<text x="617.90" y="318.90" font-size="6.5" fill="#2b2727" textLength="157.60" lengthAdjust="spacingAndGlyphs" stroke="#2b2727" stroke-width="0.18">装饰零件表面需贴上水贴纸，请选择在装配的同时进行。</text>
<circle cx="612.6" cy="316.4" r="1.3" fill="#231f20"/>
<text x="617.90" y="330.80" font-size="6.5" fill="#2b2727" textLength="157.60" lengthAdjust="spacingAndGlyphs" stroke="#2b2727" stroke-width="0.18">推荐模型工具(自备)：胶水、水口剪刀、长咀钳、刀片、</text>
<circle cx="612.6" cy="328.3" r="1.3" fill="#231f20"/>
<text x="617.90" y="342.00" font-size="6.5" fill="#2b2727" textLength="119.00" lengthAdjust="spacingAndGlyphs" stroke="#2b2727" stroke-width="0.18">锉刀、镊子、钳、钻、剪刀、瞬间快干胶。</text>
<text x="617.90" y="353.90" font-size="6.5" fill="#2b2727" textLength="98.80" lengthAdjust="spacingAndGlyphs" stroke="#2b2727" stroke-width="0.18">软布同砂纸同时也应该是必备工具。</text>
<circle cx="612.6" cy="351.4" r="1.3" fill="#231f20"/>
<text x="617.90" y="365.20" font-size="6.5" fill="#2b2727" textLength="105.90" lengthAdjust="spacingAndGlyphs" stroke="#2b2727" stroke-width="0.18">请使用塑料胶水和油漆，模型内不含。</text>
<circle cx="612.6" cy="362.7" r="1.3" fill="#231f20"/>
<g transform="translate(470.1,411.0)"><circle r="10.6" fill="#231f20"/><path d="M-2.6,-1.6 L5.4,-8.2 L7.4,-5.2 L-1.6,-0.8Z" fill="#fff"/><path d="M-2.3,0 C-2.6,2 -5.6,3.6 -5.6,6 C-5.6,8 -4,9.2 -2.3,9.2 C-0.6,9.2 1,8 1,6 C1,3.6 -2,2 -2.3,0Z" fill="#fff"/><circle cx="-1.6" cy="5" r="1.1" fill="#231f20"/></g>
<g transform="translate(547.6,411.1)"><circle r="10.6" fill="#231f20"/><circle cx="0" cy="-6.2" r="1.6" fill="#fff"/><path d="M-0.6,-5 L0.8,-5 C1.4,-3.2 2.6,-2.4 4.5,-2.3 L4.6,-0.5 L-4.4,-0.5 L-4.3,-2.3 C-2.5,-2.4 -1.2,-3.2 -0.6,-5Z" fill="#fff"/><circle cx="-4.3" cy="-2.5" r="0.9" fill="#fff"/><circle cx="4.5" cy="-2.5" r="0.9" fill="#fff"/><path d="M-4.4,0.3 H4.6 V5.4 Q4.6,6.6 3.4,6.6 H-3.2 Q-4.4,6.6 -4.4,5.4Z" fill="#fff"/><path d="M-0.9,2.4 V4.6 H1.2 V3.6" fill="none" stroke="#231f20" stroke-width="0.9"/></g>
<g transform="translate(615.7,411.2)"><circle r="10.6" fill="#231f20"/><rect x="-4" y="-9" width="8.2" height="3.4" rx="1.7" fill="#fff"/><path d="M-1,-5.8 L1,-5.8 L0.7,5.8 L-0.7,5.8Z" fill="#fff"/><path d="M-1.8,7.6 H1.6 Q1.4,9.4 -0.1,9.4 Q-1.6,9.4 -1.8,7.6Z" fill="#fff"/></g>
<g transform="translate(684.2,411.0)"><circle r="10.6" fill="#231f20"/><path d="M-4.4,-5.4 L7,-5 L4.7,3.3 L-7.1,5.8Z" fill="#fff"/></g>
<g transform="translate(752.3,411.0)"><circle r="10.6" fill="#231f20"/><path d="M-8.2,4.2 L-4.3,-0.5 L-0.8,-4 L3.6,-5.2 L7.1,-5.2 L8.7,-2.8 L7.9,0.7 L6.3,2.7 L0.4,3.9 L-3.9,6.2 L-7.4,5.6Z" fill="#fff"/><path d="M-4.6,5.2 L5.8,2.3 M4.3,-3 Q6.6,-2 5.2,0.6" fill="none" stroke="#231f20" stroke-width="1.1"/></g>
<g transform="translate(470.3,472.2)"><circle r="10.6" fill="#231f20"/><path d="M-7,6.2 L6.3,-6.9 L8.1,-5.7 L7.3,-0.6 L0,6.8Z" fill="#bcbcbc" stroke="#fff" stroke-width="1.1" stroke-linejoin="round"/><path d="M-2,5 L6.2,-3.4 M0,5.4 L6.6,-1.4 M-3.8,5.6 L5.6,-4.8" stroke="#777" stroke-width="0.5"/></g>
<g transform="translate(547.9,472.2)"><circle r="10.6" fill="#231f20"/><text x="0" y="6.2" font-size="16.5" text-anchor="middle" fill="#fff" stroke="#fff" stroke-width="0.5">?</text></g>
<g transform="translate(616.3,472.2)"><circle r="10.6" fill="#231f20"/><path d="M-1.1,0.5 L-7,-1.4 M-1.1,0.5 L-3.1,-5 M-1.1,0.5 L5.2,3.3 M-1.1,0.5 L0.8,7.2 M-1.1,0.5 L-7.4,4.8 M-1.1,0.5 L1.8,-1.6" stroke="#fff" stroke-width="1.9" stroke-linecap="round"/><rect x="1.8" y="-7.6" width="6.4" height="5.4" rx="1.6" transform="rotate(-35 5 -4.9)" fill="#c4c4c4"/></g>
<g transform="translate(684.4,472.0)"><circle r="10.6" fill="#231f20"/><path d="M5.2,-4.8 C5.6,-0.5 3,2.6 -1.8,3.4" fill="none" stroke="#fff" stroke-width="2.2" stroke-linecap="round"/><path d="M-4.6,2.9 L-2.2,0.2 L-1.2,5.2Z" fill="#fff"/></g>
<g transform="translate(751.7,472.0)"><circle r="10.6" fill="#231f20"/><path d="M-8.3,0.2 L0,-7.7 L8.1,0.4 L0.2,8 Z" fill="#fff"/><path d="M-3.6,-5 L1.6,0.3 L-3.3,5.5" fill="none" stroke="#231f20" stroke-width="1.3"/></g>
<text x="468.40" y="433.60" font-size="8.2" fill="#2b2727" text-anchor="middle" textLength="40.70" lengthAdjust="spacingAndGlyphs" stroke="#2b2727" stroke-width="0.25">使用强力胶</text>
<text x="467.85" y="444.40" font-size="10" text-anchor="middle" textLength="84.90" lengthAdjust="spacingAndGlyphs">Cyanoacrylate glue</text>
<text x="546.80" y="433.60" font-size="8.2" fill="#2b2727" text-anchor="middle" textLength="17.00" lengthAdjust="spacingAndGlyphs" stroke="#2b2727" stroke-width="0.25">配重</text>
<text x="546.90" y="444.40" font-size="10" text-anchor="middle" textLength="31.50" lengthAdjust="spacingAndGlyphs">Weight</text>
<text x="615.60" y="433.60" font-size="8.2" fill="#2b2727" text-anchor="middle" textLength="15.00" lengthAdjust="spacingAndGlyphs" stroke="#2b2727" stroke-width="0.25">钻孔</text>
<text x="614.40" y="444.40" font-size="10" text-anchor="middle" textLength="45.40" lengthAdjust="spacingAndGlyphs">Make hole</text>
<text x="683.20" y="433.60" font-size="8.2" fill="#2b2727" text-anchor="middle" textLength="16.20" lengthAdjust="spacingAndGlyphs" stroke="#2b2727" stroke-width="0.25">切除</text>
<text x="682.20" y="444.40" font-size="10" text-anchor="middle" textLength="60.80" lengthAdjust="spacingAndGlyphs">Cut / Remove</text>
<text x="751.40" y="433.60" font-size="8.2" fill="#2b2727" text-anchor="middle" textLength="16.30" lengthAdjust="spacingAndGlyphs" stroke="#2b2727" stroke-width="0.25">贴纸</text>
<text x="751.70" y="444.40" font-size="10" text-anchor="middle" textLength="25.70" lengthAdjust="spacingAndGlyphs">Decal</text>
<text x="469.60" y="494.00" font-size="8.2" fill="#2b2727" text-anchor="middle" textLength="17.10" lengthAdjust="spacingAndGlyphs" stroke="#2b2727" stroke-width="0.25">锉平</text>
<text x="469.40" y="504.30" font-size="10" text-anchor="middle" textLength="47.60" lengthAdjust="spacingAndGlyphs">File / Sand</text>
<text x="547.40" y="494.00" font-size="8.2" fill="#2b2727" text-anchor="middle" textLength="15.80" lengthAdjust="spacingAndGlyphs" stroke="#2b2727" stroke-width="0.25">选择</text>
<text x="547.00" y="504.30" font-size="10" text-anchor="middle" textLength="28.70" lengthAdjust="spacingAndGlyphs">Option</text>
<text x="615.50" y="494.00" font-size="8.2" fill="#2b2727" text-anchor="middle" textLength="32.10" lengthAdjust="spacingAndGlyphs" stroke="#2b2727" stroke-width="0.25">不涂胶水</text>
<text x="615.00" y="504.30" font-size="10" text-anchor="middle" textLength="48.10" lengthAdjust="spacingAndGlyphs">No cement</text>
<text x="684.50" y="494.00" font-size="8.2" fill="#2b2727" text-anchor="middle" textLength="16.30" lengthAdjust="spacingAndGlyphs" stroke="#2b2727" stroke-width="0.25">弯曲</text>
<text x="684.10" y="504.30" font-size="10" text-anchor="middle" textLength="23.00" lengthAdjust="spacingAndGlyphs">Bend</text>
<text x="751.40" y="494.00" font-size="8.2" fill="#2b2727" text-anchor="middle" textLength="16.30" lengthAdjust="spacingAndGlyphs" stroke="#2b2727" stroke-width="0.25">先装</text>
<text x="750.20" y="504.30" font-size="10" text-anchor="middle" textLength="53.00" lengthAdjust="spacingAndGlyphs">Install it first</text>
<text x="427.90" y="544.00" font-size="6.9" fill="#2b2727" textLength="45.20" lengthAdjust="spacingAndGlyphs" stroke="#2b2727" stroke-width="0.15">水贴纸的使用:</text>
<text x="427.90" y="559.20" font-size="6.9" fill="#2b2727" textLength="74.50" lengthAdjust="spacingAndGlyphs" stroke="#2b2727" stroke-width="0.15">1.从水贴纸上剪下印花:</text>
<text x="427.90" y="575.90" font-size="6.9" fill="#2b2727" textLength="153.00" lengthAdjust="spacingAndGlyphs" stroke="#2b2727" stroke-width="0.15">2.将印花放入温水中浸10秒，然后放在干净布上.</text>
<text x="427.90" y="592.30" font-size="6.9" fill="#2b2727" textLength="110.00" lengthAdjust="spacingAndGlyphs" stroke="#2b2727" stroke-width="0.15">3.拿着印花纸板将印花移到模型上:</text>
<text x="427.90" y="610.20" font-size="6.9" fill="#2b2727" textLength="110.00" lengthAdjust="spacingAndGlyphs" stroke="#2b2727" stroke-width="0.15">4.手指蘸水将印花移到适当的位置:</text>
<text x="427.90" y="628.30" font-size="6.9" fill="#2b2727" textLength="124.70" lengthAdjust="spacingAndGlyphs" stroke="#2b2727" stroke-width="0.15">5.用软布轻压印花直至水干，汽泡消失.</text>
<text x="589.45" y="542.30" font-size="8.3" fill="#2b2727" textLength="74.25" lengthAdjust="spacingAndGlyphs">DECAL APPLICATION</text>
<text x="590.00" y="551.40" font-size="8.3" fill="#2b2727" textLength="88.20" lengthAdjust="spacingAndGlyphs">1. Cut off decal from sheet.</text>
<text x="590.00" y="560.90" font-size="8.3" fill="#2b2727" textLength="188.30" lengthAdjust="spacingAndGlyphs">2. Dip the decal in tepid water 40°C for about 10 sec. and</text>
<text x="597.70" y="569.60" font-size="8.3" fill="#2b2727" textLength="73.70" lengthAdjust="spacingAndGlyphs">place on a clean cloth.</text>
<text x="590.00" y="579.90" font-size="8.3" fill="#2b2727" textLength="183.10" lengthAdjust="spacingAndGlyphs">3. Hold the backing sheet edge and slide decal onto the</text>
<text x="597.70" y="589.00" font-size="8.3" fill="#2b2727" transform="translate(598.00,0) scale(0.86,1) translate(-598.00,0)">model.</text>
<text x="590.00" y="598.90" font-size="8.3" fill="#2b2727" textLength="179.60" lengthAdjust="spacingAndGlyphs">4. Move decal into position by wetting decal with finger.</text>
<text x="590.00" y="608.40" font-size="8.3" fill="#2b2727" textLength="182.80" lengthAdjust="spacingAndGlyphs">5. Press decal gently down with a soft cloth until excess</text>
<text x="597.70" y="617.20" font-size="8.3" fill="#2b2727" textLength="103.80" lengthAdjust="spacingAndGlyphs">water and air bubbles are gone.</text>
<text x="590.00" y="627.00" font-size="8.3" fill="#2b2727" textLength="181.50" lengthAdjust="spacingAndGlyphs">6. Allow decal to dry completely before handling model.</text>
</svg>
</body></html>
